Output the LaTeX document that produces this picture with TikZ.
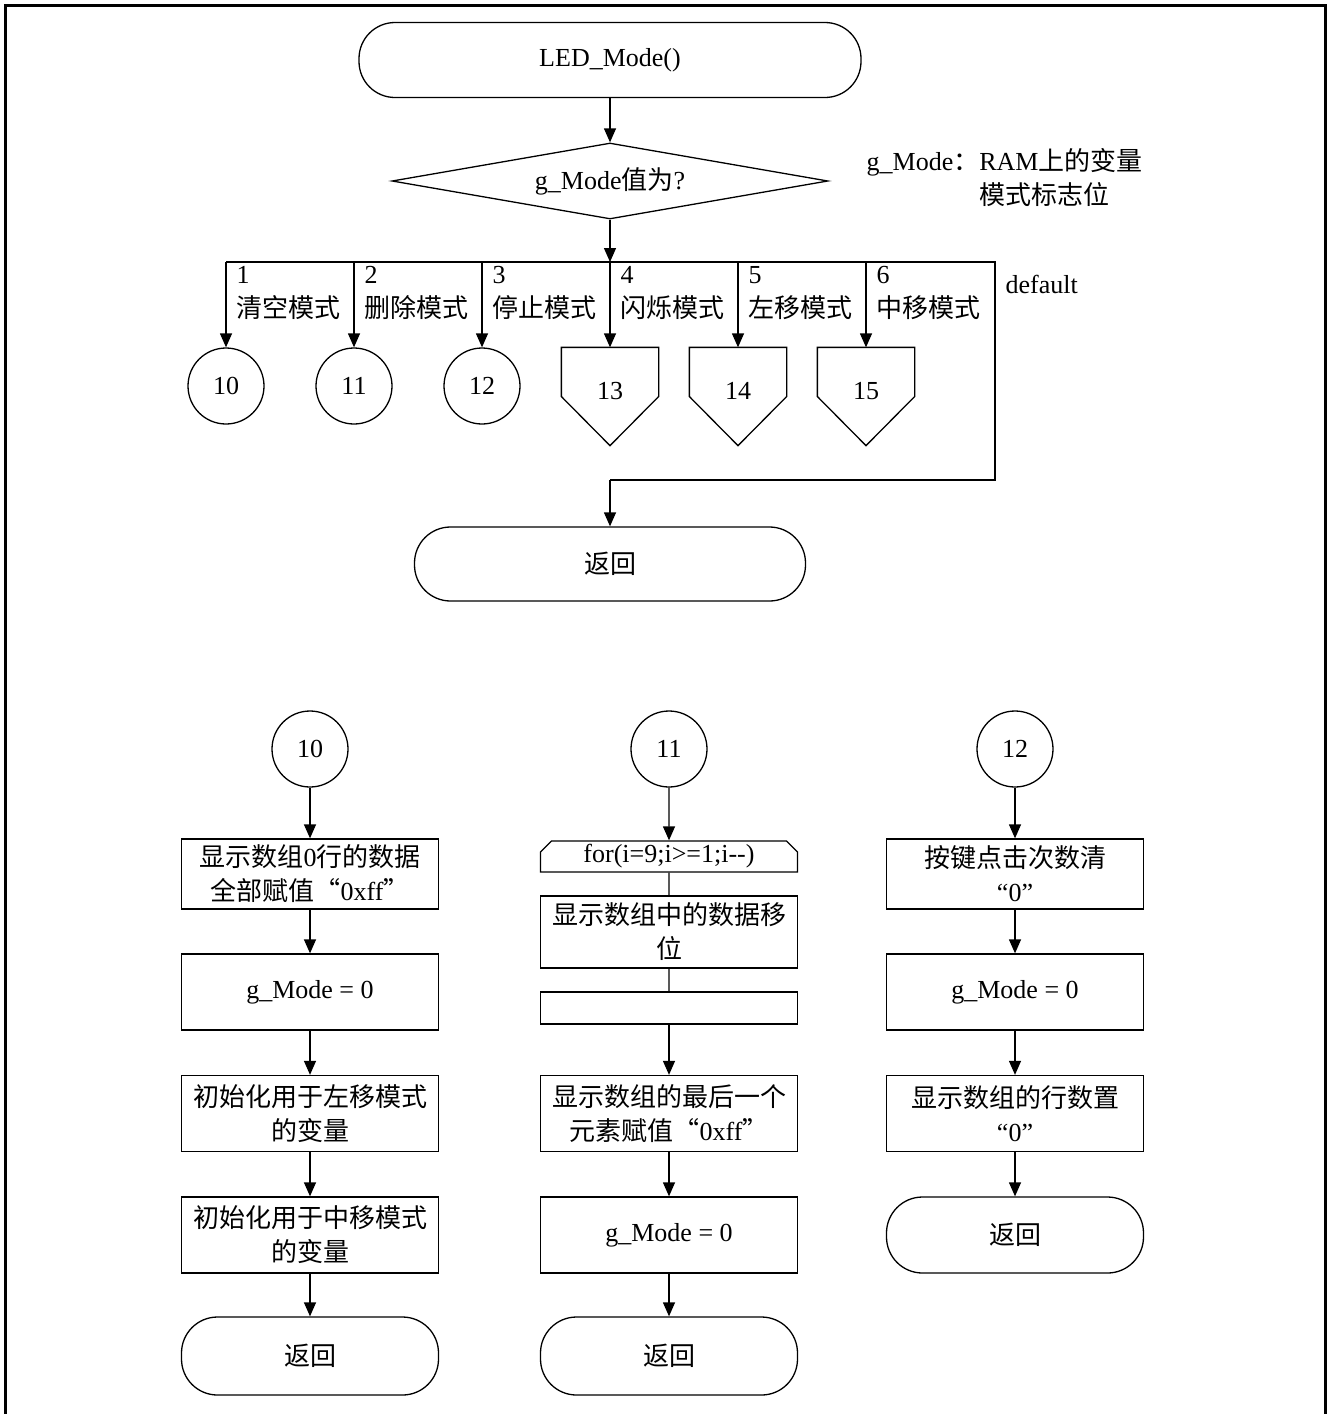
\documentclass[tikz,border=0pt]{standalone}
\usepackage{fontspec}
\setmainfont{Liberation Serif}
\newfontfamily\cjkfont{Noto Sans CJK SC}
\newcommand\zh[1]{{\cjkfont #1}}
\usetikzlibrary{positioning,arrows.meta,shapes.geometric,shapes.misc}

\begin{document}
\begin{tikzpicture}[x=1pt, y=-1pt, >={Triangle[length=14pt,width=12pt]},
	line width=1.3pt, font=\fontsize{26}{34}\selectfont,
	term/.style={draw, rectangle, rounded corners=36pt, minimum width=257pt, minimum height=76pt},
	decision/.style={draw, diamond, aspect=5.7, inner sep=0pt, minimum width=436pt, minimum height=76pt},
	conn/.style={draw, circle, minimum size=76pt, inner sep=0pt},
	offpage/.style={rectangle, minimum width=96pt, minimum height=97pt, inner sep=0pt},
	proc/.style={draw, rectangle, minimum width=257pt, minimum height=76pt, align=center, inner sep=2pt},
	loopbox/.style={draw, chamfered rectangle, chamfered rectangle xsep=8pt, minimum width=257pt, minimum height=31pt, inner sep=0pt},
	lbl/.style={anchor=west, align=left, inner sep=0pt}]
	\useasboundingbox (0,0) rectangle (1330,1414);
	% page frame, open at the bottom
	\draw[line width=3pt] (5.5,1414) -- (5.5,5.5) -- (1325.5,5.5) -- (1325.5,1414);

	% Top part: mode dispatch
	\node[term, minimum width=502pt, minimum height=75pt] (start) at (610,60) {LED\_Mode()};
	\node[decision] (mode) at (610,181) {g\_Mode\zh{值为}?};
	\node[lbl] (note) at (866,179) {g\_Mode\zh{：}RAM\zh{上的变量}\\\phantom{g\_Mode\zh{：}}\zh{模式标志位}};

	\coordinate (bus) at (610,262);
	\coordinate (busL) at (226,262);
	\coordinate (busR) at (995,262);
	\coordinate (joinR) at (995,480);
	\coordinate (join) at (610,480);

	\node[conn] (c10) at (226,386) {10};
	\node[conn] (c11) at (354,386) {11};
	\node[conn] (c12) at (482,386) {12};
	\node[offpage] (p13) at (610,396.5) {\raisebox{11pt}{13}};
	\node[offpage] (p14) at (738,396.5) {\raisebox{11pt}{14}};
	\node[offpage] (p15) at (866,396.5) {\raisebox{11pt}{15}};
	\foreach \p in {p13,p14,p15}
		\draw (\p.north west) -- (\p.north east) -- (\p.east) -- (\p.south) -- (\p.west) -- cycle;

	\node[lbl] (l1) at (236,293) {1\\\zh{清空模式}};
	\node[lbl] (l2) at (364,293) {2\\\zh{删除模式}};
	\node[lbl] (l3) at (492,293) {3\\\zh{停止模式}};
	\node[lbl] (l4) at (620,293) {4\\\zh{闪烁模式}};
	\node[lbl] (l5) at (748,293) {5\\\zh{左移模式}};
	\node[lbl] (l6) at (876,293) {6\\\zh{中移模式}};
	\node[lbl] (dflt) at (1005,284) {default};

	\node[term, minimum width=391pt, minimum height=74pt] (ret0) at (610,564) {\zh{返回}};

	\draw[->] (start) -- (mode);
	\draw[->] (mode) -- (bus);
	\draw (busL) -- (busR) -- (joinR) -- (join);
	\draw[->] (join) -- (ret0);
	\foreach \t in {c10,c11,c12,p13,p14,p15}
		\draw[->] (\t |- bus) -- (\t.north);

	% Case 10
	\node[conn] (k10) at (310,749) {10};
	\node[proc, minimum height=70pt] (a1) at (310,874) {\zh{显示数组}0\zh{行的数据}\\\zh{全部赋值“}0xff\zh{”}};
	\node[proc] (a2) at (310,992) {g\_Mode = 0};
	\node[proc] (a3) at (310,1113.5) {\zh{初始化用于左移模式}\\\zh{的变量}};
	\node[proc] (a4) at (310,1235) {\zh{初始化用于中移模式}\\\zh{的变量}};
	\node[term, minimum height=78pt] (r1) at (310,1356) {\zh{返回}};

	% Case 11
	\node[conn] (k11) at (669,749) {11};
	\node[loopbox, chamfered rectangle corners={north west,north east}] (loopA) at (669,856.5) {for(i=9;i>=1;i-{}-)};
	\node[proc, minimum height=72pt] (b1) at (669,932) {\zh{显示数组中的数据移}\\\zh{位}};
	\node[loopbox, minimum height=32pt, chamfered rectangle corners={south west,south east}] (loopB) at (669,1008) {};
	\node[proc] (b2) at (669,1113.5) {\zh{显示数组的最后一个}\\\zh{元素赋值“}0xff\zh{”}};
	\node[proc] (b3) at (669,1235) {g\_Mode = 0};
	\node[term, minimum height=78pt] (r2) at (669,1356) {\zh{返回}};

	% Case 12
	\node[conn] (k12) at (1015,749) {12};
	\node[proc, minimum height=70pt] (d1) at (1015,874) {\zh{按键点击次数清}\\“0”};
	\node[proc] (d2) at (1015,992) {g\_Mode = 0};
	\node[proc] (d3) at (1015,1113.5) {\zh{显示数组的行数置}\\“0”};
	\node[term] (r3) at (1015,1235) {\zh{返回}};

	\foreach \a/\b in {k10/a1, a1/a2, a2/a3, a3/a4, a4/r1, k11/loopA, loopB/b2, b2/b3, b3/r2, k12/d1, d1/d2, d2/d3, d3/r3}
		\draw[->] (\a) -- (\b);
	\draw (loopA) -- (b1) -- (loopB);
\end{tikzpicture}
\end{document}
